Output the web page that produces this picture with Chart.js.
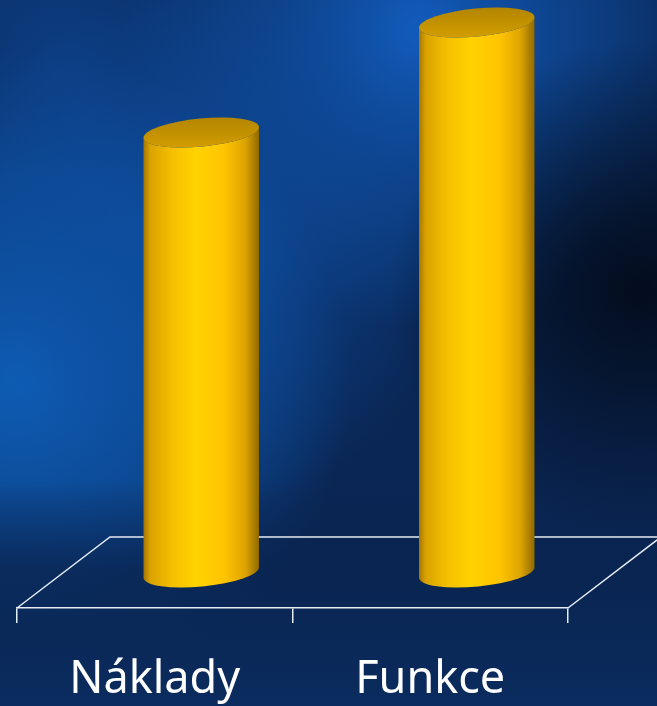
<!DOCTYPE html>
<html>
<head>
<meta charset="utf-8">
<script src="https://cdn.jsdelivr.net/npm/chart.js@4.4.0/dist/chart.umd.min.js"></script>
<style>
    html, body { margin: 0; padding: 0; background: #071d42; }
    #wrap { width: 657px; height: 706px; }
</style>
</head>
<body>
<div id="wrap"><canvas id="costChart"></canvas></div>
<script>
// chart data
const categories = ['Náklady', 'Funkce'];
const values = [80, 100];
const yMax = 100;

// floor depth offset (front edge -> back edge)
const depthX = 93;
const depthY = -71;

// background texture
const backgroundPlugin = {
    id: 'bluePaper',
    beforeDraw(chart) {
        const ctx = chart.ctx;
        const w = chart.width, h = chart.height;
        ctx.save();
        ctx.fillStyle = '#0a2654';
        ctx.fillRect(0, 0, w, h);

        let g = ctx.createRadialGradient(60, 60, 10, 60, 60, 260);
        g.addColorStop(0, 'rgba(12,60,128,1)');
        g.addColorStop(1, 'rgba(12,60,128,0)');
        ctx.fillStyle = g;
        ctx.fillRect(0, 0, w, h);

        g = ctx.createRadialGradient(20, 380, 10, 20, 380, 330);
        g.addColorStop(0, 'rgba(14,92,180,1)');
        g.addColorStop(0.6, 'rgba(13,80,160,0.7)');
        g.addColorStop(1, 'rgba(13,80,160,0)');
        ctx.fillStyle = g;
        ctx.fillRect(0, 0, w, h);

        g = ctx.createRadialGradient(420, 30, 10, 420, 30, 300);
        g.addColorStop(0, 'rgba(18,90,185,1)');
        g.addColorStop(0.6, 'rgba(14,75,155,0.6)');
        g.addColorStop(1, 'rgba(14,75,155,0)');
        ctx.fillStyle = g;
        ctx.fillRect(0, 0, w, h);

        g = ctx.createRadialGradient(200, 250, 10, 200, 250, 260);
        g.addColorStop(0, 'rgba(14,80,165,0.8)');
        g.addColorStop(1, 'rgba(14,80,165,0)');
        ctx.fillStyle = g;
        ctx.fillRect(0, 0, w, h);

        g = ctx.createRadialGradient(640, 290, 10, 640, 290, 250);
        g.addColorStop(0, 'rgba(3,12,28,0.95)');
        g.addColorStop(1, 'rgba(3,12,28,0)');
        ctx.fillStyle = g;
        ctx.fillRect(0, 0, w, h);

        g = ctx.createLinearGradient(0, 480, 0, h);
        g.addColorStop(0, 'rgba(9,34,75,0)');
        g.addColorStop(0.4, 'rgba(9,36,80,0.8)');
        g.addColorStop(1, 'rgba(11,44,95,1)');
        ctx.fillStyle = g;
        ctx.fillRect(0, 0, w, h);
        ctx.restore();
    }
};

// floor: diagonals and back edge; front edge and ticks come from the x axis
const floorPlugin = {
    id: 'floor',
    beforeDatasetsDraw(chart) {
        const ctx = chart.ctx;
        const x = chart.scales.x;
        const y0 = chart.scales.y.getPixelForValue(0);
        ctx.save();
        ctx.strokeStyle = '#e6ecf5';
        ctx.lineWidth = 1.5;
        ctx.beginPath();
        ctx.moveTo(x.left, y0);
        ctx.lineTo(x.left + depthX, y0 + depthY);
        ctx.lineTo(x.right + depthX, y0 + depthY);
        ctx.lineTo(x.right, y0);
        ctx.stroke();
        ctx.restore();
    }
};

// cylinders drawn at mid-depth from the bar elements
const cylinderPlugin = {
    id: 'cylinders',
    afterDatasetsDraw(chart) {
        const ctx = chart.ctx;
        const meta = chart.getDatasetMeta(0);
        const tilt = -0.095;
        meta.data.forEach(bar => {
            const cx = bar.x + depthX / 2;
            const by = bar.base + depthY / 2;
            const ty = bar.y + depthY / 2;
            const rx = bar.width / 2;
            const ry = 14;
            const ex = rx * Math.cos(tilt);
            const ey = rx * Math.sin(tilt);

            ctx.save();
            const g = ctx.createLinearGradient(cx - rx, 0, cx + rx, 0);
            g.addColorStop(0, '#a37500');
            g.addColorStop(0.06, '#d9a200');
            g.addColorStop(0.25, '#f5c000');
            g.addColorStop(0.45, '#ffd200');
            g.addColorStop(0.7, '#ffc400');
            g.addColorStop(0.88, '#dca300');
            g.addColorStop(1, '#8f6800');
            ctx.fillStyle = g;
            ctx.beginPath();
            ctx.moveTo(cx - ex, ty - ey);
            ctx.lineTo(cx - ex, by - ey);
            ctx.ellipse(cx, by, rx, ry, tilt, Math.PI, 0, true);
            ctx.lineTo(cx + ex, ty + ey);
            ctx.ellipse(cx, ty, rx, ry, tilt, 0, Math.PI, false);
            ctx.closePath();
            ctx.fill();

            const tg = ctx.createLinearGradient(0, ty - ry, 0, ty + ry);
            tg.addColorStop(0, '#b48600');
            tg.addColorStop(1, '#d09c00');
            ctx.fillStyle = tg;
            ctx.beginPath();
            ctx.ellipse(cx, ty, rx, ry, tilt, 0, Math.PI * 2);
            ctx.fill();
            ctx.restore();
        });
    }
};

const ctx = document.getElementById('costChart');
new Chart(ctx, {
    type: 'bar',
    data: {
        labels: categories,
        datasets: [{
            data: values,
            backgroundColor: 'rgba(0,0,0,0)',
            borderWidth: 0,
            categoryPercentage: 1,
            barPercentage: 0.421
        }]
    },
    options: {
        responsive: true,
        maintainAspectRatio: false,
        animation: false,
        layout: {
            padding: { left: 17, right: 89, top: 58, bottom: 0 }
        },
        plugins: {
            legend: { display: false },
            tooltip: { enabled: false }
        },
        scales: {
            y: {
                display: false,
                min: 0,
                max: yMax
            },
            x: {
                border: { display: true, color: '#e6ecf5', width: 1.5 },
                grid: {
                    display: true,
                    drawOnChartArea: false,
                    drawTicks: true,
                    tickLength: 15,
                    color: '#e6ecf5',
                    lineWidth: 1.5
                },
                ticks: {
                    color: '#ffffff',
                    padding: 30,
                    font: { family: 'Noto Sans', size: 45 }
                },
                afterFit: scale => { scale.height = 98; }
            }
        }
    },
    plugins: [backgroundPlugin, floorPlugin, cylinderPlugin]
});
</script>
</body>
</html>
